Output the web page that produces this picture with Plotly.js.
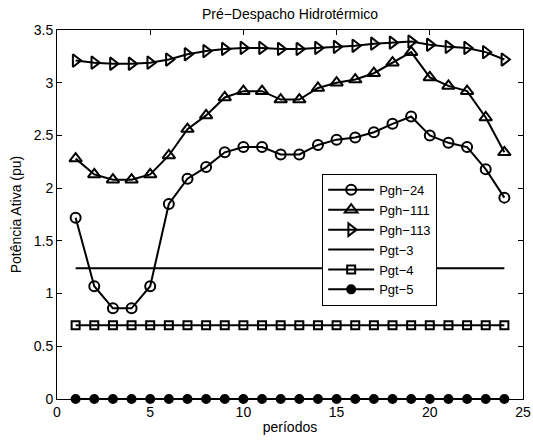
<!DOCTYPE html>
<html>
<head>
<meta charset="utf-8">
<script src="https://cdn.plot.ly/plotly-3.0.1.min.js"></script>
<style>html,body{margin:0;padding:0;background:#fff}#chart{width:533px;height:440px}</style>
</head>
<body>
<div id="chart"></div>
<script>
var periods = [1,2,3,4,5,6,7,8,9,10,11,12,13,14,15,16,17,18,19,20,21,22,23,24];
var pgh24  = [1.72,1.07,0.86,0.86,1.07,1.85,2.09,2.20,2.34,2.39,2.39,2.32,2.32,2.41,2.46,2.48,2.53,2.61,2.68,2.50,2.43,2.39,2.18,1.91];
var pgh111 = [2.28,2.13,2.08,2.08,2.13,2.31,2.56,2.69,2.86,2.92,2.92,2.84,2.84,2.95,3.00,3.03,3.09,3.19,3.29,3.05,2.97,2.92,2.67,2.34];
var pgh113 = [3.21,3.19,3.18,3.18,3.19,3.22,3.27,3.30,3.32,3.33,3.33,3.32,3.32,3.33,3.34,3.35,3.37,3.38,3.39,3.36,3.34,3.33,3.29,3.22];
var pgt3   = [1.24,1.24,1.24,1.24,1.24,1.24,1.24,1.24,1.24,1.24,1.24,1.24,1.24,1.24,1.24,1.24,1.24,1.24,1.24,1.24,1.24,1.24,1.24,1.24];
var pgt4   = [0.7,0.7,0.7,0.7,0.7,0.7,0.7,0.7,0.7,0.7,0.7,0.7,0.7,0.7,0.7,0.7,0.7,0.7,0.7,0.7,0.7,0.7,0.7,0.7];
var pgt5   = [0,0,0,0,0,0,0,0,0,0,0,0,0,0,0,0,0,0,0,0,0,0,0,0];
var names  = ['Pgh\u221224','Pgh\u2212111','Pgh\u2212113','Pgt\u22123','Pgt\u22124','Pgt\u22125'];
var xTicks = [0,5,10,15,20,25];
var yTicks = [0,0.5,1,1.5,2,2.5,3,3.5];

var series = [pgh24, pgh111, pgh113, pgt3, pgt4, pgt5];
var symbols = ['circle-open','triangle-up-open','triangle-right-open', null, 'square-open','circle'];
var sizes = [10, 11, 11, 0, 8, 8];

var traces = series.map(function(s, i){
  var t = {
    x: periods, y: s, name: names[i], type: 'scatter',
    mode: symbols[i] ? 'lines+markers' : 'lines',
    line: {color: '#000', width: 2},
    cliponaxis: false
  };
  if (symbols[i]) {
    t.marker = {symbol: symbols[i], size: sizes[i], color: '#000', line: {color: '#000', width: 2}};
  }
  return t;
});

var font = 'Liberation Sans, Arial, Helvetica, sans-serif';
var fs = 14;
var layout = {
  width: 533, height: 440,
  margin: {l: 57, r: 10, t: 30, b: 41, pad: 0},
  paper_bgcolor: '#fff', plot_bgcolor: '#fff',
  font: {family: font, size: fs, color: '#000'},
  title: {text: 'Pr\u00e9\u2212Despacho Hidrot\u00e9rmico', font: {family: font, size: fs, color: '#000'},
          x: 0.5, xref: 'paper', y: 1 - 14/440, yref: 'container', yanchor: 'middle'},
  xaxis: {range: [0, 25], tickvals: xTicks, ticktext: xTicks.map(String), ticks: 'inside', ticklen: 5,
          tickcolor: '#000', showline: true, linecolor: '#000', linewidth: 1, mirror: 'ticks',
          showgrid: false, zeroline: false, tickfont: {size: fs},
          title: {text: 'per\u00edodos', font: {size: fs}, standoff: 3}},
  yaxis: {range: [0, 3.5], tickvals: yTicks, ticktext: yTicks.map(String), ticks: 'inside', ticklen: 5,
          tickcolor: '#000', showline: true, linecolor: '#000', linewidth: 1, mirror: 'ticks',
          showgrid: false, zeroline: false, tickfont: {size: fs},
          title: {text: 'Pot\u00eancia Ativa (pu)', font: {size: fs}, standoff: 8}},
  showlegend: true,
  legend: {x: 0.569, y: 0.61, xanchor: 'left', yanchor: 'top', bgcolor: '#fff',
           bordercolor: '#000', borderwidth: 1, font: {size: 13}, tracegroupgap: 0,
           itemwidth: 46}
};

Plotly.newPlot('chart', traces, layout, {displayModeBar: false, staticPlot: true});
</script>
</body>
</html>
